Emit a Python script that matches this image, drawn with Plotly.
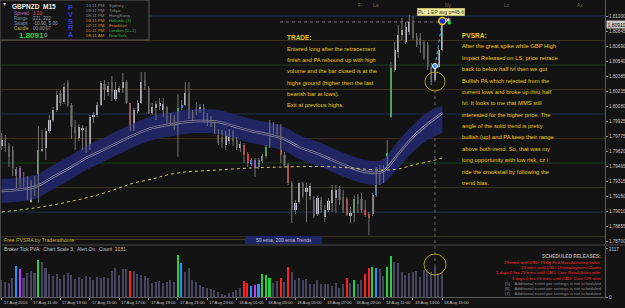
import plotly.graph_objects as go

FONT = "Liberation Sans, Arial, sans-serif"

# ---------------- data (GBPNZD M15, 17 Aug 09:00 -> 18 Aug 15:00) ----------------
opens = [1.79674, 1.79735, 1.79674, 1.79633, 1.79368, 1.79450, 1.79307, 1.79297, 1.79103, 1.79286,
         1.79256, 1.79633, 1.79654, 1.79827, 1.79939, 1.80041, 1.80215, 1.80123, 1.80317, 1.80092,
         1.79868, 1.79756, 1.79837, 1.79858, 1.79664, 1.79970, 1.79990, 1.80092, 1.80306, 1.80225,
         1.80327, 1.80153, 1.80225, 1.80266, 1.80327, 1.80113, 1.79837, 1.80031, 1.80113, 1.80347,
         1.80266, 1.80011, 1.80062, 1.80082, 1.80041, 1.80072, 1.79990, 1.79960, 1.79888, 1.80062,
         1.80092, 1.80215, 1.79960, 1.80011, 1.80031, 1.80062, 1.79990, 1.79939, 1.79919, 1.79786,
         1.79766, 1.79684, 1.79725, 1.79807, 1.79735, 1.79654, 1.79684, 1.79592, 1.79490, 1.79531,
         1.79460, 1.79521, 1.79572, 1.79664, 1.79888, 1.79827, 1.79878, 1.79582, 1.79480, 1.79297,
         1.79021, 1.79103, 1.79297, 1.79205, 1.79164, 1.79123, 1.78980, 1.79123, 1.78950, 1.79021,
         1.79093, 1.79144, 1.79235, 1.79154, 1.79133, 1.78960, 1.78991, 1.79154, 1.79133, 1.79021,
         1.78980, 1.78980, 1.79174, 1.79439, 1.79409, 1.79460, 1.79970, 1.80449, 1.80633, 1.80806,
         1.80735, 1.80837, 1.80929, 1.80786, 1.80776, 1.80735, 1.80704, 1.80480, 1.80347, 1.80480,
         1.80653]
highs = [1.79807, 1.79786, 1.79705, 1.79674, 1.79460, 1.79470, 1.79409, 1.79368, 1.79327, 1.79368,
         1.79878, 1.79837, 1.79858, 1.79990, 1.80072, 1.80235, 1.80245, 1.80317, 1.80347, 1.80113,
         1.79939, 1.79898, 1.79888, 1.79878, 1.79990, 1.80021, 1.80123, 1.80337, 1.80347, 1.80327,
         1.80388, 1.80327, 1.80286, 1.80419, 1.80347, 1.80113, 1.80062, 1.80143, 1.80429, 1.80429,
         1.80286, 1.80113, 1.80133, 1.80164, 1.80164, 1.80082, 1.80011, 1.79990, 1.80204, 1.80143,
         1.80327, 1.80327, 1.80041, 1.80123, 1.80102, 1.80102, 1.80011, 1.79980, 1.79939, 1.79847,
         1.79837, 1.79827, 1.79847, 1.79837, 1.79766, 1.79725, 1.79705, 1.79613, 1.79552, 1.79552,
         1.79552, 1.79592, 1.79684, 1.79939, 1.79919, 1.79898, 1.79898, 1.79613, 1.79501, 1.79317,
         1.79123, 1.79307, 1.79307, 1.79297, 1.79297, 1.79164, 1.79164, 1.79154, 1.79072, 1.79144,
         1.79276, 1.79276, 1.79266, 1.79225, 1.79154, 1.79052, 1.79174, 1.79184, 1.79195, 1.79123,
         1.79001, 1.79195, 1.79460, 1.79480, 1.79480, 1.79735, 1.80531, 1.80735, 1.80908, 1.80980,
         1.80939, 1.81010, 1.81000, 1.80827, 1.80827, 1.80755, 1.80735, 1.80521, 1.80510, 1.80674,
         1.80959]
lows = [1.79633, 1.79613, 1.79460, 1.79368, 1.79246, 1.79246, 1.79246, 1.79123, 1.79093, 1.79164,
        1.79093, 1.79613, 1.79531, 1.79807, 1.79919, 1.80021, 1.80082, 1.80102, 1.80072, 1.79745,
        1.79633, 1.79725, 1.79633, 1.79603, 1.79633, 1.79909, 1.79970, 1.80082, 1.80143, 1.80184,
        1.80133, 1.80133, 1.80215, 1.80215, 1.80102, 1.79827, 1.79827, 1.80011, 1.80102, 1.80245,
        1.80000, 1.79990, 1.79939, 1.80041, 1.79970, 1.79909, 1.79888, 1.79837, 1.79562, 1.80041,
        1.80082, 1.79949, 1.79939, 1.79990, 1.80011, 1.79919, 1.79878, 1.79868, 1.79796, 1.79684,
        1.79654, 1.79633, 1.79694, 1.79674, 1.79633, 1.79613, 1.79501, 1.79460, 1.79470, 1.79358,
        1.79439, 1.79501, 1.79552, 1.79654, 1.79766, 1.79756, 1.79501, 1.79450, 1.79276, 1.78889,
        1.78980, 1.79082, 1.79144, 1.78899, 1.79123, 1.78940, 1.78960, 1.78991, 1.78899, 1.79001,
        1.79001, 1.78991, 1.79072, 1.78991, 1.78960, 1.78889, 1.78899, 1.78991, 1.78991, 1.78950,
        1.78766, 1.78960, 1.79154, 1.79276, 1.79297, 1.79450, 1.79960, 1.80429, 1.80572, 1.80755,
        1.80714, 1.80806, 1.80755, 1.80684, 1.80623, 1.80551, 1.80449, 1.80296, 1.80327, 1.80470,
        1.80643]
closes = [1.79735, 1.79674, 1.79562, 1.79450, 1.79439, 1.79307, 1.79348, 1.79133, 1.79297, 1.79246,
          1.79633, 1.79643, 1.79827, 1.79939, 1.80041, 1.80194, 1.80113, 1.80276, 1.80092, 1.79868,
          1.79807, 1.79868, 1.79858, 1.79664, 1.79970, 1.79990, 1.80092, 1.80317, 1.80245, 1.80286,
          1.80225, 1.80245, 1.80266, 1.80327, 1.80113, 1.79837, 1.80041, 1.80113, 1.80327, 1.80286,
          1.80011, 1.80072, 1.80102, 1.80113, 1.80102, 1.79939, 1.79939, 1.79858, 1.80062, 1.80092,
          1.80215, 1.79990, 1.80021, 1.80041, 1.80072, 1.79939, 1.79929, 1.79888, 1.79807, 1.79705,
          1.79715, 1.79786, 1.79807, 1.79725, 1.79654, 1.79694, 1.79582, 1.79501, 1.79531, 1.79450,
          1.79531, 1.79572, 1.79664, 1.79909, 1.79837, 1.79868, 1.79582, 1.79480, 1.79297, 1.79021,
          1.79093, 1.79297, 1.79164, 1.79246, 1.79266, 1.78960, 1.79144, 1.79021, 1.79021, 1.79113,
          1.79225, 1.79225, 1.79123, 1.79021, 1.78970, 1.78991, 1.79133, 1.79082, 1.79021, 1.78970,
          1.78940, 1.79174, 1.79450, 1.79368, 1.79470, 1.79603, 1.80470, 1.80653, 1.80806, 1.80857,
          1.80888, 1.80939, 1.80776, 1.80704, 1.80704, 1.80572, 1.80480, 1.80327, 1.80480, 1.80653,
          1.80908]
volumes = [750, 676, 602, 823, 1367, 1220, 823, 1043, 1146, 1073,
           1631, 1529, 1264, 999, 940, 999, 779, 970, 1043, 970,
           779, 867, 779, 926, 867, 750, 867, 823, 896, 823,
           1161, 1264, 970, 1235, 1220, 1161, 1161, 999, 970, 926,
           823, 602, 646, 705, 602, 676, 750, 676, 1852, 1514,
           1117, 1264, 750, 676, 529, 455, 382, 352, 308, 235,
           132, 88, 161, 235, 308, 382, 705, 602, 499, 529,
           558, 1014, 970, 852, 602, 705, 823, 646, 1337, 1117,
           750, 823, 764, 793, 573, 573, 750, 558, 558, 558,
           499, 602, 411, 558, 852, 602, 750, 558, 750, 999,
           1264, 1337, 1264, 1220, 926, 1337, 1823, 1529, 1484, 1117,
           970, 1073, 1117, 1161, 896, 1190, 1220, 1117, 1337, 1043,
           1117]
# PVSRA class per bar: n normal, g climax bull, r climax bear, b rising bull, m rising bear
pvsra = list("nnnnbmnnnn" "gnnnnnnnnn" "nnnnnnnnnn" "nnnnnrnnnn" "nnnnnnnngb"
             "nnnnnnnnnn" "nnnnnnrrbm" "bgggnnrnrn" "nnnnnnnnnn" "nnnnrngnnr"
             "rgbnnggnnn" "nnnnnnnnnn" "n")

ema_bars = [0, 9, 14, 18, 23, 27, 32, 36, 41, 45, 50, 54, 59, 63, 68, 72, 77, 81, 87, 90, 94, 98,
            102, 104, 108, 112, 116, 120]
ema50 = [1.79215, 1.79256, 1.79358, 1.79439, 1.79552, 1.79623, 1.79715, 1.79786, 1.79858, 1.79888,
         1.79919, 1.79929, 1.79919, 1.79878, 1.79827, 1.79796, 1.79745, 1.79664, 1.79582, 1.79531,
         1.79470, 1.79419, 1.79399, 1.79419, 1.79592, 1.79766, 1.79898, 1.80011]
band_upper = [1.79337, 1.79378, 1.79480, 1.79561, 1.79674, 1.79745, 1.79837, 1.79908, 1.79980, 1.80010,
              1.80041, 1.80051, 1.80041, 1.80000, 1.79949, 1.79918, 1.79867, 1.79786, 1.79704, 1.79653,
              1.79592, 1.79541, 1.79521, 1.79541, 1.79725, 1.79888, 1.80021, 1.80082]
band_lower = [1.79093, 1.79134, 1.79236, 1.79317, 1.79430, 1.79501, 1.79593, 1.79664, 1.79736, 1.79766,
              1.79797, 1.79807, 1.79797, 1.79756, 1.79705, 1.79674, 1.79623, 1.79542, 1.79460, 1.79409,
              1.79348, 1.79297, 1.79277, 1.79297, 1.79450, 1.79613, 1.79735, 1.79807]
ema200_bars = [0, 9, 18, 27, 32, 36, 41, 45, 50, 54, 59, 68, 77, 87, 95, 103, 108, 112, 117, 120]
ema200 = [1.79001, 1.79042, 1.79103, 1.79184, 1.79246, 1.79297, 1.79337, 1.79378, 1.79409, 1.79419,
          1.79429, 1.79450, 1.79460, 1.79465, 1.79450, 1.79429, 1.79439, 1.79480, 1.79521, 1.79552]

time_tick_bars = [0, 8, 16, 24, 32, 40, 48, 56, 64, 72, 80, 88, 96, 104, 112, 120]
time_tick_labels = ["17 Aug 2016", "17 Aug 11:00", "17 Aug 13:00", "17 Aug 15:00", "17 Aug 17:00",
                    "17 Aug 19:00", "17 Aug 21:00", "17 Aug 23:00", "18 Aug 01:00", "18 Aug 03:00",
                    "18 Aug 05:00", "18 Aug 07:00", "18 Aug 09:00", "18 Aug 11:00", "18 Aug 13:00",
                    "18 Aug 15:00"]
price_ticks = [1.81000, 1.80845, 1.80690, 1.80540, 1.80385, 1.80235, 1.80080, 1.79925, 1.79775,
               1.79620, 1.79465, 1.79315, 1.79160, 1.79010, 1.78855, 1.78700]
level_prices = [1.8100, 1.8075, 1.8050, 1.8025, 1.8000, 1.7975, 1.7950, 1.7925, 1.7900, 1.7875]
level_kinds = ["blue", "brown", "green", "brown", "blue", "brown", "green", "brown", "blue", "brown"]

current_price = 1.80910
entry_bar, entry_price = 118, 1.80490
exit_bar, exit_price = 120, 1.80949
trade_level = 1.80939
vol_axis_max = 2117

trade_title = "TRADE:"
trade_lines = ["Entered long after the retracement", "finish and PA rebound up with high",
               "volume and the bar closed is at the", "highs ground (higher then the last",
               "bearish bar at lows).", "Exit at previous highs."]
pvsra_title = "PVSRA:"
pvsra_lines = ["After the great spike while GBP High", "Impact Released on LS, price retrace",
               "back to below half lvl then we got", "Bullish PA which rejected from the",
               "current lows and broke up thru half", "lvl. It looks to me that MMS still",
               "interested for the higher price. The", "angle of the solid trend is pretty",
               "bullish (up) and PA keep their range", "above both trend. So, that was my",
               "long opportunity with low risk, cz i", "ride the crookstail by following the",
               "trend bias."]
release_title = "SCHEDULED RELEASES:"
release_lines = ["29 mins until USD: Philly Fed Manufacturing Index",
                 "29 mins until USD: Unemployment Claims",
                 "1 days 0 hrs 29 mins until CAD: Core Retail Sales m/m",
                 "1 days 0 hrs 29 mins until CAD: Core CPI m/m"]
release_empty = ["[5]", "[6]", "[7]"]
info_rows = [("Spread", "3.20"), ("Range", "221, 222"), ("Swaps", "-10.90, 5.00"), ("Candle", "00:00:07")]
clock_rows = [("10:11 PM", "Sydney"), ("09:11 PM", "Tokyo"), ("08:11 PM", "HongKong"),
              ("03:11 PM", "Helsinki (3)"), ("02:11 PM", "Frankfurt"), ("01:11 PM", "London (D+1)"),
              ("08:11 AM", "NewYork")]
session_marks = [("F", 356), ("La", 371), ("Ny", 443), ("Lc", 502), ("Ax", 575)]

# ---------------- geometry helpers ----------------
W, H = 625, 308
PR, PB = 605, 297          # plot right edge / bottom edge in pixels
XMIN, XMAX = -0.463, 164.30


def xp(px):
    return px / PR


def yp(py):
    return (PB - py) / PB


N = len(opens)
idx = list(range(N))

COL = {"g": "#22d04a", "r": "#ff2020", "b": "#2a8fff", "m": "#c23cff"}
body_col, vol_col, bases, heights = [], [], [], []
for i in range(N):
    o, c = opens[i], closes[i]
    k = pvsra[i]
    if k == "n":
        body_col.append("#c4c4d0" if c >= o else "#4a4a4a")
        vol_col.append("#454560")
    else:
        body_col.append(COL[k])
        vol_col.append(COL[k])
    bases.append(min(o, c))
    heights.append(max(abs(c - o), 0.00008))

fig = go.Figure()
# EMA band
fig.add_trace(go.Scatter(x=ema_bars, y=band_lower, mode="lines", line=dict(width=0, shape="spline"),
                         hoverinfo="skip", showlegend=False))
fig.add_trace(go.Scatter(x=ema_bars, y=band_upper, mode="lines", line=dict(width=0, shape="spline"),
                         fill="tonexty", fillcolor="rgba(34,39,104,0.93)", hoverinfo="skip",
                         showlegend=False))
fig.add_trace(go.Scatter(x=ema_bars, y=ema50, mode="lines",
                         line=dict(color="#8c8cac", width=2.4, shape="spline"), showlegend=False))
fig.add_trace(go.Scatter(x=ema_bars, y=ema50, mode="lines",
                         line=dict(color="#181c44", width=1, shape="spline"), showlegend=False))
fig.add_trace(go.Scatter(x=ema200_bars, y=ema200, mode="lines",
                         line=dict(color="#d6c85a", width=1, dash="dot", shape="spline"),
                         showlegend=False))
# wicks
wx, wy = [], []
for i in range(N):
    wx += [i, i, None]
    wy += [lows[i], highs[i], None]
fig.add_trace(go.Scatter(x=wx, y=wy, mode="lines", line=dict(color="#747474", width=1),
                         hoverinfo="skip", showlegend=False))
# bodies
fig.add_trace(go.Bar(x=idx, y=heights, base=bases, width=0.58,
                     marker=dict(color=body_col, line=dict(width=0)), showlegend=False))
# trade path
fig.add_trace(go.Scatter(x=[entry_bar, exit_bar], y=[entry_price, exit_price], mode="lines",
                         line=dict(color="#3cc8e8", width=1, dash="dot"), showlegend=False))
fig.add_trace(go.Scatter(x=[entry_bar], y=[entry_price], mode="markers",
                         marker=dict(symbol="circle", size=5, color="#2a8fff",
                                     line=dict(color="#ffffff", width=1)), showlegend=False))
fig.add_trace(go.Scatter(x=[exit_bar], y=[exit_price], mode="markers",
                         marker=dict(symbol="circle", size=7, color="#1a30e0",
                                     line=dict(color="#e8c800", width=1.5)), showlegend=False))
fig.add_trace(go.Scatter(x=[exit_bar + 1.6], y=[exit_price + 0.0001], mode="markers",
                         marker=dict(symbol="asterisk-open", size=4, color="#e0e0e0",
                                     line=dict(color="#e0e0e0", width=1)), showlegend=False))
fig.add_trace(go.Scatter(x=[exit_bar + 1.9], y=[current_price + 0.0002], mode="markers",
                         marker=dict(symbol="square", size=3, color="#20e040"), showlegend=False))
# volume
fig.add_trace(go.Bar(x=idx, y=volumes, width=0.42, xaxis="x2", yaxis="y2",
                     marker=dict(color=vol_col, line=dict(width=0)), showlegend=False))

shapes = []
LV = {"blue": "#1e3252", "brown": "#3c3220", "green": "#1a3c1e"}
for p, k in zip(level_prices, level_kinds):
    shapes.append(dict(type="line", xref="paper", yref="y", x0=0, x1=1, y0=p, y1=p,
                       line=dict(color=LV[k], width=1), layer="below"))
# dotted trade level
shapes.append(dict(type="line", xref="x", yref="y", x0=75.8, x1=120, y0=trade_level, y1=trade_level,
                   line=dict(color="#7a7a7a", width=1, dash="dot"), layer="below"))
# dotted vertical at entry bar
shapes.append(dict(type="line", xref="x", yref="paper", x0=entry_bar, x1=entry_bar, y0=0, y1=yp(92),
                   line=dict(color="#6a6a6a", width=1, dash="dot"), layer="below"))
# panel separators / borders
shapes.append(dict(type="line", xref="paper", yref="paper", x0=0, x1=xp(625), y0=yp(245), y1=yp(245),
                   line=dict(color="#4a4a4a", width=1)))
shapes.append(dict(type="line", xref="paper", yref="paper", x0=xp(0.5), x1=xp(0.5), y0=0, y1=1,
                   line=dict(color="#4a4a4a", width=1)))
# info box
shapes.append(dict(type="rect", xref="paper", yref="paper", x0=xp(0), x1=xp(149), y0=yp(40), y1=yp(0),
                   fillcolor="#151515", line=dict(color="#5c5c5c", width=1), layer="above"))
# circles
shapes.append(dict(type="circle", xref="paper", yref="paper", x0=xp(425), x1=xp(445), y0=yp(91),
                   y1=yp(72), line=dict(color="#a89a20", width=1)))
shapes.append(dict(type="circle", xref="paper", yref="paper", x0=xp(424), x1=xp(446), y0=yp(275),
                   y1=yp(254), line=dict(color="#a89a20", width=1)))
# PVSRA footer line and trend box
shapes.append(dict(type="line", xref="paper", yref="paper", x0=xp(70), x1=xp(245), y0=yp(239.5),
                   y1=yp(239.5), line=dict(color="#4a4220", width=1)))
shapes.append(dict(type="rect", xref="paper", yref="paper", x0=xp(245), x1=xp(322), y0=yp(244),
                   y1=yp(236), fillcolor="#1e2466", line=dict(width=0)))

ann = []


def T(px, py, s, size=5, color="#c0c0c0", xa="left", bold=False, **kw):
    if bold:
        s = "<b>" + s + "</b>"
    ann.append(dict(x=xp(px), y=yp(py), xref="paper", yref="paper", text=s, showarrow=False,
                    xanchor=xa, yanchor="middle", font=dict(size=size, color=color, family=FONT), **kw))


NB = "\u00a0"
# info box
T(1, 4, "▾", size=6, color="#d0d0d0")
T(10, 6, "GBPNZD" + NB * 2 + "M15", size=6.5, color="#f0f0f0", bold=True)
lab_cols = ["#b070c8", "#7a8ab8", "#7a8ab8", "#c0b060"]
val_cols = ["#d86080", "#a0a0b0", "#a0a0b0", "#a0a0b0"]
for r, (lab, val) in enumerate(info_rows):
    T(12, 13.3 + 5 * r, lab, size=4.6, color=lab_cols[r])
    T(31, 13.3 + 5 * r, val, size=4.6, color=val_cols[r])
T(17, 35, "1.8091", size=8, color="#3cd03c", bold=True)
T(42, 35.5, "0", size=6, color="#c0c0c0")
for j, ch in enumerate("PVSRA"):
    T(70.5, 8 + 6.6 * j, ch, size=7, color="#3a3ae0", xa="center", bold=True)
for r, (tm, city) in enumerate(clock_rows):
    hot = r >= 3
    T(84, 5.7 + 5 * r, tm, size=4.4, color="#d08a30" if hot else "#8a8a8a")
    T(107, 5.7 + 5 * r, city, size=4.4, color="#40b040" if hot and city != "Frankfurt" else
      ("#d08a30" if hot else "#8a8a8a"))
for s, x in session_marks:
    T(x, 5, s, size=5, color="#6e6e4e")
# trade box label
T(441.5, 12.5, "PL: 1 EP avg p=45.6", size=5, color="#303030", xa="center",
  bgcolor="#f3eea0", bordercolor="#c8b850", borderwidth=0.5, borderpad=0.5)
# price highlight
T(605.5, 24.7, "1.80910", size=5, color="#000000", bgcolor="#c8c8c8", borderpad=0.5)
# texts
YEL = "#ecc81a"
T(285, 37.3, trade_title, size=6.5, color=YEL, bold=True)
for k, s in enumerate(trade_lines):
    T(285, 49 + 11.2 * k, s, size=5.8, color=YEL)
T(460, 35, pvsra_title, size=6.5, color=YEL, bold=True)
for k, s in enumerate(pvsra_lines):
    T(460, 46.3 + 11.4 * k, s, size=5.8, color=YEL)
T(2, 239.5, "Free PVSRA by Traderathome", size=5.2, color="#c8b43c")
T(283.5, 240, "50 ema, 200 ema Trends", size=5, color="#c4c4d4", xa="center")
T(2, 249, "Broker Tick PVA:" + NB * 2 + "Chart Scale 3," + NB * 2 + "Alert On," + NB * 2 + "Count" + NB * 2
  + "1031", size=4.9, color="#c4c4c4")
T(603, 256.7, release_title, size=4.8, color="#a8a8a8", xa="right", bold=True)
for k, s in enumerate(release_lines):
    T(603, 262.5 + 5.2 * k, s, size=4.3, color="#ff2a2a", xa="right")
for k, s in enumerate(release_empty):
    T(603, 283.3 + 5.3 * k, s + NB * 4 + "Additional event per settings is not scheduled", size=4.3,
      color="#8a8a8a", xa="right")
for b, lab in zip(time_tick_bars, time_tick_labels):
    ann.append(dict(x=b, y=yp(302.5), xref="x2", yref="paper", text=lab, showarrow=False,
                    xanchor="left", yanchor="middle", font=dict(size=4.2, color="#c4c4c4", family=FONT)))

fig.update_layout(
    width=W, height=H, margin=dict(l=0, r=W - PR, t=0, b=H - PB),
    paper_bgcolor="#131313", plot_bgcolor="#131313", showlegend=False,
    barmode="overlay", bargap=0, hovermode=False,
    xaxis=dict(domain=[0, 1], range=[XMIN, XMAX], showgrid=False, zeroline=False,
               showticklabels=False, anchor="y"),
    yaxis=dict(domain=[yp(244), 1], range=[1.786744, 1.811632], side="right", anchor="x",
               tickvals=price_ticks, ticktext=["%.5f" % v for v in price_ticks],
               tickfont=dict(size=4.6, color="#c8c8c8", family=FONT), ticks="outside", ticklen=2,
               tickcolor="#909090", showgrid=False, zeroline=False, showline=True,
               linecolor="#5a5a5a"),
    xaxis2=dict(domain=[0, 1], range=[XMIN, XMAX], matches="x", anchor="y2", showgrid=False,
                zeroline=False, showticklabels=False, tickvals=time_tick_bars, ticks="outside",
                ticklen=2, tickcolor="#909090", showline=True, linecolor="#5a5a5a"),
    yaxis2=dict(domain=[0, yp(246)], range=[0, 2249], side="right", anchor="x2",
                tickvals=[0, vol_axis_max], ticktext=["0", str(vol_axis_max)],
                tickfont=dict(size=4.6, color="#c8c8c8", family=FONT), ticks="outside", ticklen=2,
                tickcolor="#909090", showgrid=False, zeroline=False, showline=True,
                linecolor="#5a5a5a"),
    shapes=shapes, annotations=ann,
)

fig.write_html("out.html")
